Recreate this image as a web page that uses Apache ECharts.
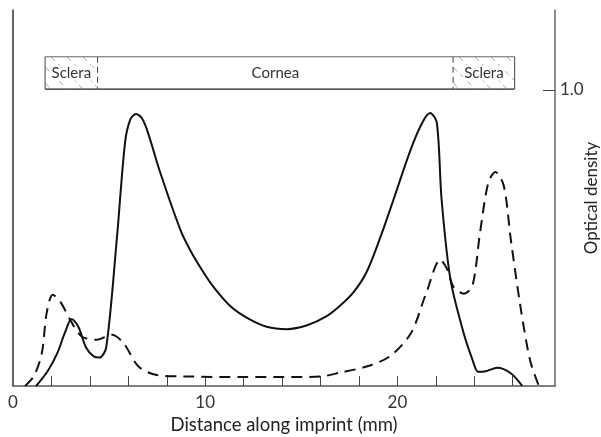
<!DOCTYPE html>
<html>
<head>
<meta charset="utf-8">
<script src="https://cdn.jsdelivr.net/npm/echarts@6/dist/echarts.min.js"></script>
<style>
  html, body { margin: 0; padding: 0; background: #fff; }
  #chart { width: 601px; height: 437px; }
</style>
</head>
<body>
<div id="chart"></div>
<script>
// solid trace (distance in mm, optical density)
var solidDist = [1.2, 1.8, 2.3, 2.7, 3.05, 3.4, 3.8, 4.2, 4.5, 4.85, 5.4, 5.83, 6.1, 6.4, 6.7, 7.0, 7.66, 8.7, 9.2, 9.8,
    10.4, 11.3, 12.2, 13.2, 14.25, 15.3, 16.3, 17.0, 17.7, 18.4, 19.1, 19.8, 20.7, 21.3, 21.7, 22.05, 22.3,
    22.76, 23.45, 23.9, 24.2, 24.6, 25.2, 25.9, 26.5];
var solidDensity = [0, 0.05, 0.11, 0.18, 0.226, 0.2, 0.13, 0.1, 0.096, 0.13, 0.495, 0.823, 0.9, 0.919, 0.905, 0.86, 0.721, 0.529, 0.461, 0.395,
    0.337, 0.27, 0.229, 0.2, 0.192, 0.205, 0.235, 0.27, 0.315, 0.385, 0.5, 0.63, 0.8, 0.89, 0.922, 0.89, 0.63,
    0.36, 0.178, 0.09, 0.048, 0.05, 0.062, 0.043, 0];

// dashed trace
var dashDist = [0.63, 1.1, 1.5, 1.75, 2.07, 2.45, 2.97, 3.58, 4.36, 5.14, 5.75, 6.53, 7.48, 9.2, 12, 14, 16, 17.0, 18.4,
    19.6, 20.7, 21.5, 22.24, 22.6, 22.9, 23.45, 23.9, 24.3, 24.73, 25.1, 25.54, 25.9, 26.4, 26.9, 27.36];
var dashDensity = [0, 0.035, 0.111, 0.246, 0.308, 0.286, 0.224, 0.167, 0.156, 0.173, 0.145, 0.066, 0.037, 0.032, 0.03, 0.03, 0.032, 0.045, 0.066,
    0.1, 0.178, 0.314, 0.427, 0.393, 0.337, 0.312, 0.337, 0.518, 0.687, 0.723, 0.675, 0.495, 0.269, 0.088, 0];

// regions of the imprint
var bandStart = [1.67, 4.4, 22.9];
var bandEnd = [4.4, 22.9, 26.1];
var bandName = ['Sclera', 'Cornea', 'Sclera'];
var bandHatched = [true, false, true];

// axis ticks
var xTicks = [2, 4, 6, 8, 10, 12, 14, 16, 18, 20, 22, 24, 26];
var xLabels = [0, 10, 20];
var yTicks = [1.0];

var FONT = 'Lato';
var bandLow = 1.003, bandHigh = 1.112;

function pairs(xs, ys) {
    var out = [];
    for (var i = 0; i < xs.length; i++) out.push([xs[i], ys[i]]);
    return out;
}

var bandData = [];
for (var i = 0; i < bandStart.length; i++) bandData.push([bandStart[i], bandEnd[i], i]);

function renderBand(params, api) {
    var idx = api.value(2);
    var p0 = api.coord([api.value(0), bandHigh]);
    var p1 = api.coord([api.value(1), bandLow]);
    var x0 = p0[0], y0 = p0[1], x1 = p1[0], y1 = p1[1];
    var kids = [];
    kids.push({ type: 'rect', shape: { x: x0, y: y0, width: x1 - x0, height: y1 - y0 },
        style: { fill: '#fff' } });
    if (bandHatched[idx]) {
        var step = 16;
        for (var c = x0 - (y1 - y0) + 6; c < x1; c += step) {
            var xa = Math.max(x0, c), xb = Math.min(x1, c + (y1 - y0));
            if (xb <= xa) continue;
            kids.push({ type: 'line',
                shape: { x1: xa, y1: y0 + (xa - c), x2: xb, y2: y0 + (xb - c) },
                style: { stroke: '#aaa', lineWidth: 1, lineDash: [6, 4] } });
        }
    }
    // top and bottom edges
    kids.push({ type: 'line', shape: { x1: x0, y1: y0, x2: x1, y2: y0 }, style: { stroke: '#666', lineWidth: 1 } });
    kids.push({ type: 'line', shape: { x1: x0, y1: y1, x2: x1, y2: y1 }, style: { stroke: '#222', lineWidth: 1.2 } });
    // left edge: solid on the outside, dashed between regions
    kids.push({ type: 'line', shape: { x1: x0, y1: y0, x2: x0, y2: y1 },
        style: { stroke: '#444', lineWidth: 1, lineDash: idx === 0 ? null : [6, 4] } });
    if (idx === bandStart.length - 1) {
        kids.push({ type: 'line', shape: { x1: x1, y1: y0, x2: x1, y2: y1 }, style: { stroke: '#444', lineWidth: 1 } });
    }
    kids.push({ type: 'text', style: { text: bandName[idx], x: (x0 + x1) / 2, y: (y0 + y1) / 2,
        align: 'center', verticalAlign: 'middle', fill: '#333', font: '15px ' + FONT,
        backgroundColor: bandHatched[idx] ? '#fff' : null, padding: [0, 1] } });
    return { type: 'group', children: kids };
}

var myChart = echarts.init(document.getElementById('chart'));

myChart.setOption({
    animation: false,
    grid: { left: 13, right: 46, top: 10, bottom: 51, outerBoundsMode: 'none', containLabel: false },
    xAxis: {
        type: 'value', min: 0, max: 28.2,
        name: 'Distance along imprint (mm)', nameLocation: 'middle', nameGap: 27,
        nameTextStyle: { fontFamily: FONT, fontSize: 18.5, color: '#222' },
        axisLine: { lineStyle: { color: '#555', width: 1.5 } },
        axisTick: { inside: true, length: 10, customValues: xTicks, lineStyle: { color: '#444' } },
        axisLabel: { customValues: xLabels, fontFamily: FONT, fontSize: 17, color: '#333', margin: 8 },
        splitLine: { show: false }
    },
    yAxis: [{
        type: 'value', min: 0, max: 1.27, position: 'left',
        axisLine: { show: true, lineStyle: { color: '#333', width: 1.5 } },
        axisTick: { show: false }, axisLabel: { show: false }, splitLine: { show: false }
    }, {
        type: 'value', min: 0, max: 1.27, position: 'right',
        name: 'Optical density', nameLocation: 'middle', nameGap: 28, nameRotate: 90,
        nameMoveOverlap: false,
        nameTextStyle: { fontFamily: FONT, fontSize: 17, color: '#222' },
        axisLine: { show: true, lineStyle: { color: '#666', width: 1.5 } },
        axisTick: { inside: true, length: 12, customValues: yTicks, lineStyle: { color: '#444' } },
        axisLabel: { customValues: yTicks, formatter: function (v) { return v.toFixed(1); },
            fontFamily: FONT, fontSize: 17, color: '#333', margin: 5 },
        splitLine: { show: false }
    }],
    series: [{
        type: 'line', yAxisIndex: 1, data: pairs(solidDist, solidDensity),
        smooth: 0.3, showSymbol: false,
        lineStyle: { color: '#111', width: 2 }
    }, {
        type: 'line', yAxisIndex: 1, data: pairs(dashDist, dashDensity),
        smooth: 0.3, showSymbol: false,
        lineStyle: { color: '#111', width: 2, type: [11, 7] }
    }, {
        type: 'custom', yAxisIndex: 1, data: bandData, renderItem: renderBand,
        encode: { x: [0, 1] }, z: 5, silent: true
    }]
});
</script>
</body>
</html>
